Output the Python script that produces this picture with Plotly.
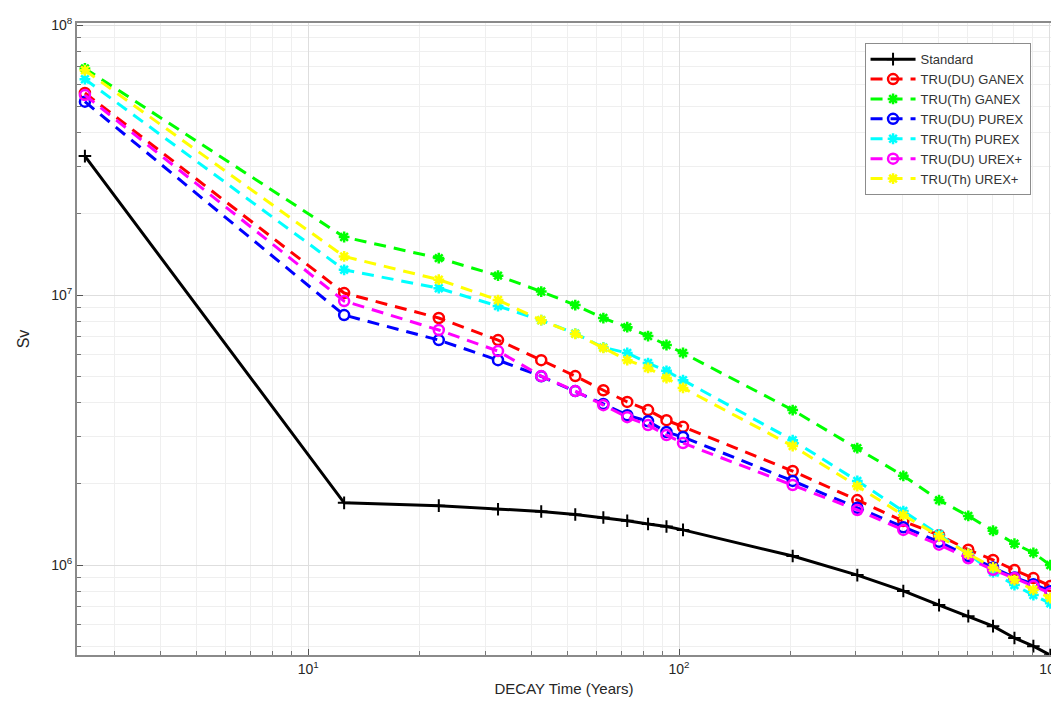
import plotly.graph_objects as go

# Decay times (years)
years = [2.5, 12.5, 22.5, 32.5, 42.5, 52.5, 62.5, 72.5, 82.5, 92.5, 102.5,
         202.5, 302.5, 402.5, 502.5, 602.5, 702.5, 802.5, 902.5, 1002.5]

standard = [3.27e7, 1.70e6, 1.66e6, 1.61e6, 1.58e6, 1.54e6, 1.50e6, 1.46e6, 1.42e6, 1.39e6, 1.35e6,
            1.08e6, 9.18e5, 8.02e5, 7.11e5, 6.47e5, 5.94e5, 5.37e5, 5.01e5, 4.64e5]
du_ganex = [5.6e7, 1.017e7, 8.22e6, 6.81e6, 5.74e6, 5.01e6, 4.44e6, 4.02e6, 3.75e6, 3.44e6, 3.25e6,
            2.23e6, 1.74e6, 1.455e6, 1.29e6, 1.14e6, 1.045e6, 9.58e5, 8.95e5, 8.36e5]
th_ganex = [6.9e7, 1.64e7, 1.37e7, 1.18e7, 1.03e7, 9.18e6, 8.22e6, 7.6e6, 7.05e6, 6.53e6, 6.1e6,
            3.75e6, 2.71e6, 2.14e6, 1.74e6, 1.52e6, 1.34e6, 1.2e6, 1.11e6, 1.0e6]
du_purex = [5.2e7, 8.43e6, 6.81e6, 5.74e6, 5.0e6, 4.41e6, 3.95e6, 3.59e6, 3.41e6, 3.11e6, 2.98e6,
            2.05e6, 1.63e6, 1.38e6, 1.22e6, 1.08e6, 9.8e5, 9.0e5, 8.5e5, 8.0e5]
th_purex = [6.3e7, 1.24e7, 1.06e7, 9.1e6, 8.07e6, 7.2e6, 6.4e6, 6.1e6, 5.6e6, 5.24e6, 4.84e6,
            2.9e6, 2.05e6, 1.585e6, 1.3e6, 1.1e6, 9.4e5, 8.43e5, 7.74e5, 7.22e5]
du_urex = [5.5e7, 9.5e6, 7.42e6, 6.2e6, 5.01e6, 4.41e6, 3.91e6, 3.53e6, 3.30e6, 3.03e6, 2.83e6,
           1.98e6, 1.60e6, 1.35e6, 1.19e6, 1.06e6, 9.6e5, 8.95e5, 8.36e5, 7.87e5]
th_urex = [6.8e7, 1.39e7, 1.14e7, 9.58e6, 8.07e6, 7.18e6, 6.37e6, 5.74e6, 5.37e6, 4.93e6, 4.53e6,
           2.76e6, 1.96e6, 1.53e6, 1.28e6, 1.1e6, 9.8e5, 8.8e5, 8.1e5, 7.55e5]

x_tickvals = [10, 100, 1000]
x_ticktext = ["10<sup>1</sup>", "10<sup>2</sup>", "10<sup>3</sup>"]
y_tickvals = [1e6, 1e7, 1e8]
y_ticktext = ["10<sup>6</sup>", "10<sup>7</sup>", "10<sup>8</sup>"]

series = [
    ("TRU(DU) GANEX", du_ganex, "#ff0000", "circle-open"),
    ("TRU(Th) GANEX", th_ganex, "#00ff00", "asterisk-open"),
    ("TRU(DU) PUREX", du_purex, "#0000ff", "circle-open"),
    ("TRU(Th) PUREX", th_purex, "#00ffff", "asterisk-open"),
    ("TRU(DU) UREX+", du_urex, "#ff00ff", "circle-open"),
    ("TRU(Th) UREX+", th_urex, "#ffff00", "asterisk-open"),
]

fig = go.Figure()
fig.add_trace(go.Scatter(
    x=years, y=standard, name="Standard", mode="lines+markers",
    line=dict(color="#000000", width=3),
    marker=dict(symbol="cross-thin", size=9, color="#000000",
                line=dict(color="#000000", width=2)),
))
for name, vals, col, sym in series:
    fig.add_trace(go.Scatter(
        x=years, y=vals, name=name, mode="lines+markers",
        line=dict(color=col, width=3, dash="12px,8px"),
        marker=dict(symbol=sym, size=10 if sym == "circle-open" else 9, color=col,
                    line=dict(color=col, width=2.5)),
    ))

font_col = "#262626"
fig.update_layout(
    width=1059, height=702,
    margin=dict(l=69, r=16, t=15, b=55, autoexpand=False),
    paper_bgcolor="white", plot_bgcolor="white",
    font=dict(family="Liberation Sans, Arial, sans-serif", size=14, color=font_col),
    showlegend=True,
    legend=dict(x=0.979, y=0.968, xanchor="right", yanchor="top",
                bgcolor="white", bordercolor="#8c8c8c", borderwidth=1,
                font=dict(size=13, color="#333333"), tracegroupgap=0,
                itemwidth=45),
)
fig.update_xaxes(
    type="log", range=[0.3766, 3.003], tickmode="array",
    tickvals=x_tickvals, ticktext=x_ticktext, automargin=False,
    showgrid=True, gridcolor="#dedede", gridwidth=1,
    ticks="inside", ticklen=6, tickcolor="#555555",
    showline=True, linecolor="#8a8a8a", linewidth=2, mirror=True,
    minor=dict(dtick="D1", ticks="inside", ticklen=4, tickcolor="#777777",
               showgrid=True, gridcolor="#efefef", gridwidth=1),
    title=dict(text="DECAY Time (Years)", font=dict(size=15, color=font_col), standoff=8),
    tickfont=dict(size=14, color=font_col), zeroline=False,
)
fig.update_yaxes(
    type="log", range=[5.667, 8.0074], tickmode="array",
    tickvals=y_tickvals, ticktext=y_ticktext, automargin=False,
    showgrid=True, gridcolor="#dedede", gridwidth=1,
    ticks="inside", ticklen=6, tickcolor="#555555",
    showline=True, linecolor="#8a8a8a", linewidth=2, mirror=True,
    minor=dict(dtick="D1", ticks="inside", ticklen=4, tickcolor="#777777",
               showgrid=True, gridcolor="#efefef", gridwidth=1),
    title=dict(text="Sv", font=dict(size=16, color=font_col), standoff=18),
    tickfont=dict(size=14, color=font_col), zeroline=False,
)

fig.write_html("out.html")
